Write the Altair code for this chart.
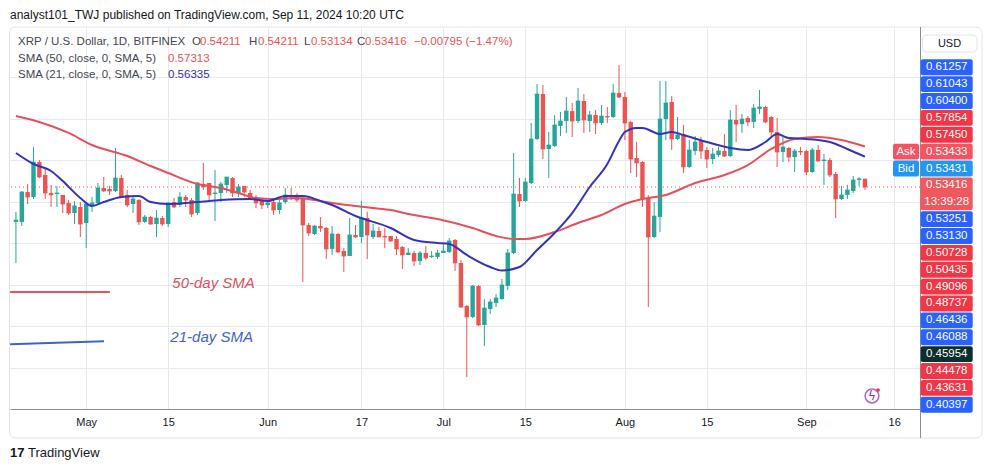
import altair as alt
import pandas as pd

FONT = "Liberation Sans"
UP = "#26a69a"
DOWN = "#ef5350"
GRID = "#e6e9ef"
TEXT = "#131722"

# ---------------- data ----------------
dates = pd.date_range("2024-04-19", "2024-09-11", freq="D").strftime("%Y-%m-%d").tolist()

opens = [
    .5005, .5005, .5293, .5245, .5582, .5457, .5284, .5274, .5265, .5188, .5091, .5149,
    .4995, .5168, .5188, .5332, .5322, .5303, .5428, .5265, .5178, .5216, .5005, .5053, .4985, .5043, .4985, .5197,
    .5168, .5245, .5216, .5091, .5370, .5380, .5274, .5284, .5361, .5428, .5284, .5351, .5284, .5245, .5216,
    .5168, .5197, .5120, .5197, .5265, .5265, .5236, .4976, .4889, .4966, .4947, .4745, .4889, .4725, .4677,
    .4879, .4860, .5043, .4860, .4918, .4870, .4870, .4841, .4764, .4687, .4706, .4629, .4706, .4668, .4668,
    .4706, .4716, .4831, .4610, .4196, .4090, .4388, .4013, .4167, .4225, .4263, .4388, .4706, .5274, .5207,
    .5380, .5804, .6237, .5708, .5736, .5929, .5977, .6073, .5977, .6170, .5977, .6035, .5958, .6025, .6016, .6247,
    .6208, .5968, .5621, .5582, .5236, .4860, .5053, .5996, .6160, .5804, .5852, .5534, .5688, .5785, .5698,
    .5611, .5650, .5688, .5640, .5987, .5948, .6006, .5968, .6093, .6112, .6016, .5871, .5679, .5717, .5630, .5688,
    .5688, .5486, .5698, .5592, .5602, .5467, .5226, .5265, .5303, .5409, .54211,
]
highs = [
    .5101, .5303, .5370, .5727, .5602, .5525, .5361, .5351, .5265, .5216, .5207, .5197,
    .5197, .5245, .5380, .5438, .5351, .5717, .5457, .5313, .5265, .5226, .5072, .5062, .5120, .5062, .5197, .5236,
    .5293, .5265, .5236, .5390, .5573, .5380, .5505, .5390, .5438, .5438, .5370, .5351, .5313, .5265, .5236,
    .5207, .5216, .5216, .5332, .5332, .5284, .5245, .4995, .4976, .5053, .4956, .4966, .4899, .4754, .5043,
    .4976, .5207, .5101, .4985, .4956, .4947, .4870, .4870, .4773, .4754, .4725, .4725, .4773, .4725, .4735,
    .4802, .4850, .4841, .4639, .4205, .4398, .4398, .4263, .4263, .4311, .4456, .4745, .5669, .5428, .5428,
    .5958, .6333, .6324, .5871, .6035, .6064, .6208, .6151, .6295, .6237, .6073, .6083, .6131, .6112, .6333, .6516,
    .6256, .5978, .5775, .5592, .5265, .5197, .6362, .6362, .6218, .6016, .5939, .5794, .5833, .5823, .5727,
    .5717, .5727, .5852, .6083, .6131, .6045, .6025, .6141, .6276, .6122, .6025, .6006, .5823, .5727, .5708, .5727,
    .5698, .5717, .5746, .5659, .5621, .5486, .5351, .5361, .5448, .5438, .54211,
]
lows = [
    .4610, .4966, .5178, .5226, .5428, .5226, .5149, .5149, .5091, .5072, .4985, .4860,
    .4754, .5101, .5178, .5293, .5265, .5293, .5245, .5149, .5091, .4976, .4995, .4976, .4860, .4966, .4956, .5139,
    .5149, .5149, .5053, .5072, .5313, .5216, .5014, .5197, .5284, .5245, .5245, .5245, .5216, .5139, .5130,
    .5139, .5072, .5082, .5178, .5216, .5197, .4427, .4870, .4879, .4908, .4648, .4687, .4706, .4523, .4677,
    .4850, .4802, .4648, .4841, .4860, .4754, .4812, .4687, .4552, .4687, .4581, .4590, .4639, .4658, .4648,
    .4706, .4706, .4533, .4176, .3512, .4080, .4003, .3810, .4118, .4186, .4253, .4350, .4696, .5149, .5197,
    .5370, .5794, .5611, .5428, .5727, .5833, .5862, .5823, .5958, .5862, .5871, .5852, .5939, .5958, .6006, .6199,
    .5794, .5476, .5438, .5149, .4186, .4850, .4908, .5794, .5698, .5794, .5476, .5525, .5650, .5611, .5525,
    .5563, .5630, .5630, .5630, .5775, .5862, .5929, .5910, .6045, .5958, .5833, .5534, .5582, .5582, .5486, .5650,
    .5457, .5476, .5582, .5361, .5438, .5043, .5216, .5226, .5284, .5351, .53134,
]
closes = [
    .5024, .5293, .5245, .5582, .5438, .5284, .5265, .5284, .5178, .5091, .5159, .4985,
    .5178, .5188, .5332, .5303, .5303, .5428, .5245, .5168, .5226, .5005, .5053, .4985, .5043, .4985, .5188, .5149,
    .5245, .5216, .5082, .5380, .5342, .5265, .5284, .5370, .5438, .5284, .5342, .5293, .5236, .5188, .5168,
    .5188, .5120, .5188, .5265, .5245, .5216, .4976, .4899, .4966, .4947, .4745, .4889, .4716, .4677, .4879,
    .4860, .5043, .4879, .4918, .4860, .4860, .4822, .4745, .4687, .4706, .4629, .4706, .4658, .4677, .4706,
    .4725, .4822, .4610, .4186, .4090, .4388, .4013, .4176, .4234, .4273, .4398, .4706, .5274, .5207, .5390,
    .5804, .6237, .5708, .5746, .5939, .5977, .6073, .5977, .6170, .5987, .6035, .5958, .6025, .6016, .6247, .6208,
    .5958, .5611, .5573, .5226, .4860, .5062, .5996, .6151, .5804, .5842, .5534, .5698, .5775, .5688, .5611,
    .5659, .5688, .5640, .5987, .5948, .5996, .5968, .6102, .6112, .5968, .5871, .5679, .5727, .5630, .5688, .5679,
    .5486, .5698, .5592, .5602, .5457, .5226, .5265, .5313, .5409, .5421, .53416,
]

sma50_dates = ["2024-04-19", "2024-04-23", "2024-04-28", "2024-05-02", "2024-05-08", "2024-05-12",
               "2024-05-15", "2024-05-20", "2024-05-24", "2024-05-27", "2024-05-30", "2024-06-02",
               "2024-06-06", "2024-06-10", "2024-06-12", "2024-06-16", "2024-06-19", "2024-06-22",
               "2024-06-25", "2024-06-30", "2024-07-06", "2024-07-10", "2024-07-13", "2024-07-15",
               "2024-07-20", "2024-07-24", "2024-07-28", "2024-08-01", "2024-08-04", "2024-08-08",
               "2024-08-13", "2024-08-18", "2024-08-22", "2024-08-26", "2024-08-30", "2024-09-03",
               "2024-09-07", "2024-09-11"]
sma50_values = [0.6025, 0.5968, 0.5862, 0.5746, 0.5640, 0.5544, 0.5476, 0.5370, 0.5332, 0.5284,
                0.5236, 0.5226, 0.5236, 0.5207, 0.5188, 0.5159, 0.5139, 0.5120, 0.5082, 0.5033,
                0.4947, 0.4870, 0.4841, 0.4841, 0.4908, 0.4995, 0.5072, 0.5178, 0.5226, 0.5265,
                0.5380, 0.5457, 0.5553, 0.5708, 0.5804, 0.5823, 0.5794, 0.57313]

sma21_dates = ["2024-04-19", "2024-04-22", "2024-04-25", "2024-04-27", "2024-04-30",
               "2024-05-02", "2024-05-04", "2024-05-07", "2024-05-10", "2024-05-12", "2024-05-15",
               "2024-05-20", "2024-05-24", "2024-05-29",
               "2024-06-01", "2024-06-04", "2024-06-07", "2024-06-10", "2024-06-12", "2024-06-16",
               "2024-06-22", "2024-06-26", "2024-06-30",
               "2024-07-02", "2024-07-05", "2024-07-09", "2024-07-11", "2024-07-14", "2024-07-17",
               "2024-07-20", "2024-07-23", "2024-07-26", "2024-07-29", "2024-07-31",
               "2024-08-01", "2024-08-03", "2024-08-04", "2024-08-07", "2024-08-09", "2024-08-11",
               "2024-08-15", "2024-08-19", "2024-08-22", "2024-08-25", "2024-08-27", "2024-08-29",
               "2024-09-01", "2024-09-05", "2024-09-08", "2024-09-11"]
sma21_values = [0.5669, 0.5563, 0.5496, 0.5399, 0.5236,
                0.5159, 0.5197, 0.5245, 0.5255, 0.5197, 0.5178, 0.5197, 0.5216, 0.5226,
                0.5207, 0.5255, 0.5255, 0.5207, 0.5168, 0.5062, 0.4947, 0.4831, 0.4802,
                0.4793, 0.4687, 0.4571, 0.4537, 0.4571, 0.4735, 0.4899, 0.5091, 0.5342, 0.5563, 0.5785,
                0.5871, 0.5910, 0.5910, 0.5852, 0.5871, 0.5842, 0.5775, 0.5717, 0.5698, 0.5775, 0.5852, 0.5813,
                0.5804, 0.5775, 0.5708, 0.56335]

# drawn trend-line legend segments and their captions
sma50_key_dates = ["2024-04-18", "2024-05-05T01:00:00Z"]
sma50_key_values = [0.4330, 0.4330]
sma21_key_dates = ["2024-04-18", "2024-05-04T01:00:00Z"]
sma21_key_values = [0.3827, 0.3856]
captions = ["50-day SMA", "21-day SMA"]
caption_dates = ["2024-05-15T17:00:00Z", "2024-05-15T09:00:00Z"]
caption_values = [0.4417, 0.3900]

# right-hand price labels (top to bottom)
label_texts = ["0.61257", "0.61043", "0.60400", "0.57854", "0.57450", "0.53433", "0.53431",
               "0.53416", "13:39:28", "0.53251", "0.53130", "0.50728", "0.50435", "0.49096",
               "0.48737", "0.46436", "0.46088", "0.45954", "0.44478", "0.43631", "0.40397"]
label_colors = ["#2962ff", "#2962ff", "#2962ff", "#f23645", "#f23645", "#f7525f", "#2196f3",
                "#f0585e", "#f0585e", "#2962ff", "#2962ff", "#f23645", "#f23645", "#f23645",
                "#f23645", "#2962ff", "#2962ff", "#0b2e2e", "#f23645", "#f23645", "#2962ff"]
tag_texts = ["Ask", "Bid"]
tag_rows = [5, 6]

grid_prices = [0.36, 0.40, 0.44, 0.48, 0.52, 0.56, 0.60, 0.64]
tick_dates = ["2024-05-01", "2024-05-15", "2024-06-01", "2024-06-17", "2024-07-01",
              "2024-07-15", "2024-08-01", "2024-08-15", "2024-09-01", "2024-09-16"]

# ---------------- tables ----------------
df = pd.DataFrame({"date": dates, "open": opens, "high": highs, "low": lows, "close": closes})
df["dir"] = ["up" if c >= o else "down" for o, c in zip(opens, closes)]
s50 = pd.DataFrame({"date": sma50_dates, "value": sma50_values})
s21 = pd.DataFrame({"date": sma21_dates, "value": sma21_values})
k50 = pd.DataFrame({"date": sma50_key_dates, "value": sma50_key_values})
k21 = pd.DataFrame({"date": sma21_key_dates, "value": sma21_key_values})
cap = pd.DataFrame({"date": caption_dates, "value": caption_values, "text": captions,
                    "color": ["#e04f5f", "#3e63d0"]})

rows = list(range(len(label_texts)))
labels = pd.DataFrame({"row": rows, "text": label_texts, "color": label_colors})
boxes = labels[labels["text"] != "13:39:28"].copy()
boxes["r0"] = boxes["row"] - 0.47
boxes["r1"] = [r + 1.47 if t == "0.53416" else r + 0.47 for r, t in zip(boxes["row"], boxes["text"])]
tags = pd.DataFrame({"row": tag_rows, "text": tag_texts,
                     "color": [label_colors[r] for r in tag_rows]})
tags["r0"] = tags["row"] - 0.47
tags["r1"] = tags["row"] + 0.47


def ms(s):
    return int(pd.Timestamp(s, tz="UTC").timestamp() * 1000)


W, H = 910, 381
xs = alt.Scale(type="utc", domain=[ms("2024-04-18 20:10"), ms("2024-09-19 13:12")])
ys = alt.Scale(domain=[0.32037, 0.68728], nice=False, zero=False)
rs = alt.Scale(domain=[-2.3296, 20.2549], reverse=True, nice=False, zero=False)

X = alt.X("date:T", scale=xs, title=None, axis=alt.Axis(
    values=[ms(d) for d in tick_dates],
    labelExpr="utcdate(datum.value) == 1 ? utcFormat(datum.value, '%b') : utcFormat(datum.value, '%-d')",
    grid=True, gridColor=GRID, ticks=False, domainColor="#8a8d96",
    labelFont=FONT, labelFontSize=11, labelColor=TEXT, labelPadding=7,
    labelOverlap=False, labelFlush=False))
YAX = alt.Axis(orient="right", values=grid_prices, labels=False, ticks=False, domain=False,
               grid=True, gridColor=GRID, title=None)
col = alt.Color("dir:N", scale=alt.Scale(domain=["up", "down"], range=[UP, DOWN]), legend=None)

wicks = alt.Chart(df).mark_rule(strokeWidth=1).encode(
    x=X, y=alt.Y("low:Q", scale=ys, axis=YAX), y2="high:Q", color=col)
bodies = alt.Chart(df).mark_bar(size=4.4).encode(
    x=X, y=alt.Y("open:Q", scale=ys, axis=None), y2="close:Q", color=col)
mins = alt.Chart(df).mark_tick(thickness=1, size=4.4).encode(
    x=X, y=alt.Y("close:Q", scale=ys, axis=None), color=col)

line50 = alt.Chart(s50).mark_line(color="#e84f5c", strokeWidth=2, interpolate="monotone").encode(
    x=X, y=alt.Y("value:Q", scale=ys, axis=None))
line21 = alt.Chart(s21).mark_line(color="#3333bb", strokeWidth=2, interpolate="monotone").encode(
    x=X, y=alt.Y("value:Q", scale=ys, axis=None))
key50 = alt.Chart(k50).mark_line(color="#e5525e", strokeWidth=2, clip=True).encode(
    x=X, y=alt.Y("value:Q", scale=ys, axis=None))
key21 = alt.Chart(k21).mark_line(color="#3d62d6", strokeWidth=2, clip=True).encode(
    x=X, y=alt.Y("value:Q", scale=ys, axis=None))
capt = alt.Chart(cap).mark_text(font=FONT, fontSize=15, fontStyle="italic", align="left",
                                baseline="middle").encode(
    x=X, y=alt.Y("value:Q", scale=ys, axis=None), text="text:N",
    color=alt.Color("color:N", scale=None))

last = alt.Chart(pd.DataFrame({"p": [closes[-1]]})).mark_rule(
    color="#ef5350", strokeDash=[1, 3], strokeWidth=1).encode(y=alt.Y("p:Q", scale=ys, axis=None))

dummy = pd.DataFrame({"k": [0]})


def txt(t, x, y, color=TEXT, size=11.5, **kw):
    return alt.Chart(dummy).mark_text(text=t, font=kw.pop("font", FONT), fontSize=size, color=color,
                                      align=kw.pop("align", "left"), baseline="middle", **kw).encode(
        x=alt.value(x), y=alt.value(y))


RED = "#ef5350"
GRAY = "#434651"
legend_layers = [
    txt("analyst101_TWJ published on TradingView.com, Sep 11, 2024 10:20 UTC", 0, -13, TEXT, 12),
    txt("XRP / U.S. Dollar, 1D, BITFINEX", 8, 14, GRAY),
    txt("O", 182, 14, GRAY), txt("0.54211", 190, 14, RED),
    txt("H", 239, 14, GRAY), txt("0.54211", 248, 14, RED),
    txt("L", 294, 14, GRAY), txt("0.53134", 301, 14, RED),
    txt("C", 347, 14, GRAY), txt("0.53416", 355, 14, RED),
    txt("\u22120.00795 (\u22121.47%)", 404, 14, RED),
    txt("SMA (50, close, 0, SMA, 5)", 8, 31, GRAY), txt("0.57313", 158, 31, RED),
    txt("SMA (21, close, 0, SMA, 5)", 8, 47, GRAY), txt("0.56335", 158, 47, "#3030b0"),
    txt("17", 0, 425, TEXT, 13, fontWeight="bold"),
    txt("TradingView", 18, 425, TEXT, 13),
]

frame = alt.Chart(dummy).mark_rect(fill="transparent", stroke="#e0e3eb", strokeWidth=1,
                                   cornerRadius=6).encode(
    x=alt.value(-0.5), x2=alt.value(972), y=alt.value(-1), y2=alt.value(410))
sep = alt.Chart(dummy).mark_rule(color="#8a8d96", strokeWidth=1).encode(
    x=alt.value(910.5), y=alt.value(-1), y2=alt.value(410))
usd_box = alt.Chart(dummy).mark_rect(fill="white", stroke="#e0e3eb", cornerRadius=4).encode(
    x=alt.value(912.5), x2=alt.value(967), y=alt.value(7), y2=alt.value(24))
usd_txt = txt("USD", 939.5, 15.5, TEXT, 11, align="center")

lab_box = alt.Chart(boxes).mark_rect(cornerRadius=2).encode(
    x=alt.value(910.7), x2=alt.value(962.7),
    y=alt.Y("r0:Q", scale=rs, axis=None), y2="r1:Q", color=alt.Color("color:N", scale=None))
lab_txt = alt.Chart(labels).mark_text(font=FONT, fontSize=11.5, color="white", align="center",
                                      baseline="middle").encode(
    x=alt.value(936.7), y=alt.Y("row:Q", scale=rs, axis=None), text="text:N")
tag_box = alt.Chart(tags).mark_rect(cornerRadius=2).encode(
    x=alt.value(883), x2=alt.value(909),
    y=alt.Y("r0:Q", scale=rs, axis=None), y2="r1:Q", color=alt.Color("color:N", scale=None))
tag_txt = alt.Chart(tags).mark_text(font=FONT, fontSize=11.5, color="white", align="center",
                                    baseline="middle").encode(
    x=alt.value(896), y=alt.Y("row:Q", scale=rs, axis=None), text="text:N")

bolt_ring = alt.Chart(dummy).mark_point(shape="circle", size=190, filled=False, stroke="#9c27b0",
                                        strokeWidth=1.5).encode(x=alt.value(862), y=alt.value(368))
bolt = txt("\u03df", 862, 368, "#9c27b0", 12, font="DejaVu Sans", align="center")
bolt_dot = alt.Chart(dummy).mark_circle(size=14, color="#f23645", opacity=1).encode(
    x=alt.value(868), y=alt.value(362))

chart = alt.layer(
    frame, wicks, bodies, mins, line50, line21, key50, key21, capt, last, sep,
    usd_box, usd_txt, tag_box, tag_txt, lab_box, lab_txt, bolt_ring, bolt, bolt_dot,
    *legend_layers
).resolve_scale(y="independent").properties(
    width=W, height=H,
    padding={"left": 2, "top": 20, "right": 63, "bottom": 51},
    autosize=alt.AutoSizeParams(type="none"),
    background="white",
).configure_view(stroke=None)

chart.save("out.html", embed_options={"renderer": "svg", "actions": False})
